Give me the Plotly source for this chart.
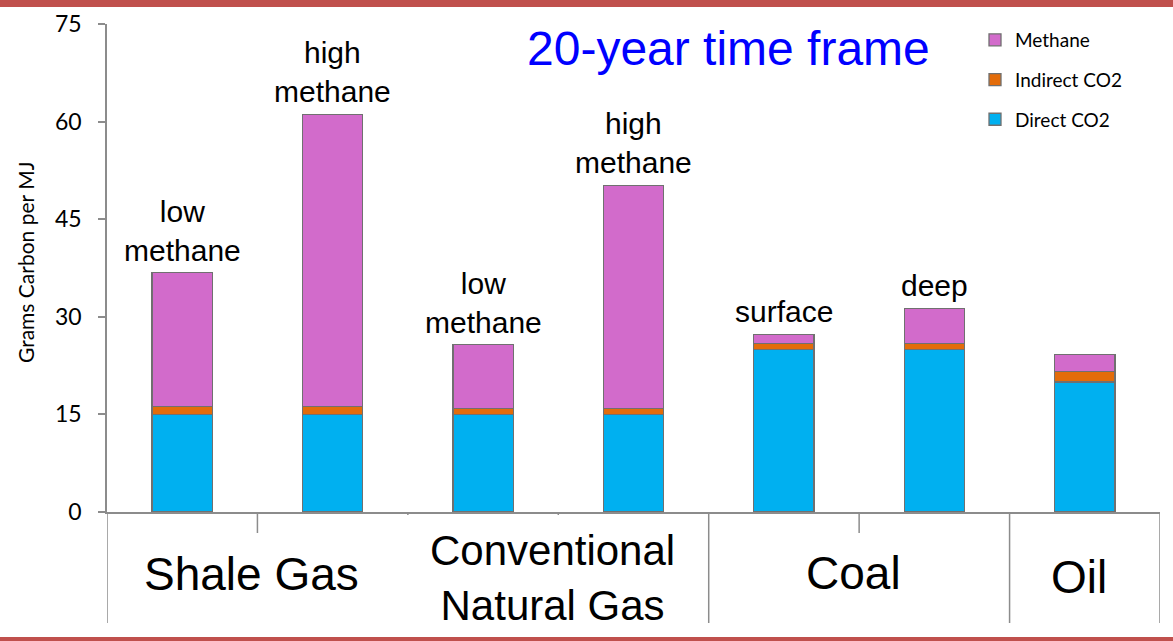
import plotly.graph_objects as go

# ---- data: grams of carbon per MJ, 20-year time frame ----
sources = ["Shale Gas", "Shale Gas", "Conventional<br>Natural Gas", "Conventional<br>Natural Gas",
           "Coal", "Coal", "Oil"]
variants = ["low<br>methane", "high<br>methane", "low<br>methane", "high<br>methane",
            "surface", "deep", ""]
direct_co2 = [15.0, 15.0, 15.0, 15.0, 25.0, 25.0, 20.0]
indirect_co2 = [1.2, 1.2, 0.9, 0.9, 0.9, 0.9, 1.6]
methane = [20.6, 44.9, 9.8, 34.3, 1.4, 5.4, 2.6]

y_ticks = [0, 15, 30, 45, 60, 75]
group_labels = ["Shale Gas", "Conventional<br>Natural Gas", "Coal", "Oil"]

# ---- geometry ----
W, H = 1173, 641
L, R, T, B = 107, 13, 24, 129
plot_w, plot_h = W - L - R, H - T - B

COL_METHANE = "#D26BCB"
COL_INDIRECT = "#E36C0A"
COL_DIRECT = "#00B0F0"
AXIS_GRAY = "#8C8C8C"
EDGE_GRAY = "#707070"
ARIAL = "Liberation Sans, Arial, sans-serif"
CALIBRI = "Lato, Open Sans, sans-serif"

bar_ids = [f"{s} {v}".replace("<br>", " ") for s, v in zip(sources, variants)]
bar_ids[-1] = "Oil"

fig = go.Figure()
for name, vals, col, rank in [("Direct CO2", direct_co2, COL_DIRECT, 3),
                              ("Indirect CO2", indirect_co2, COL_INDIRECT, 2),
                              ("Methane", methane, COL_METHANE, 1)]:
    fig.add_trace(go.Bar(
        x=bar_ids, y=vals, name=name, legendgroup=name, legendrank=rank,
        marker=dict(color=col, line=dict(color=EDGE_GRAY, width=1.3)),
        width=0.4,
    ))

# labels above each stacked bar
totals = [d + i + m for d, i, m in zip(direct_co2, indirect_co2, methane)]
annotations = []
for idx, (v, tot) in enumerate(zip(variants, totals)):
    if not v:
        continue
    annotations.append(dict(
        x=idx, y=tot, xref="x", yref="y", text=v, showarrow=False,
        yanchor="bottom", xanchor="center", yshift=4,
        font=dict(family=ARIAL, size=30, color="black"),
    ))

# category group labels below the axis
def py_to_paper(py):
    return (T + plot_h - py) / plot_h

group_pos = []
for g in group_labels:
    idxs = [i for i, s in enumerate(sources) if s == g]
    group_pos.append(sum(idxs) / len(idxs))
group_y = [574, 578, 573, 577]
group_size = [46, 42, 46, 46]
for g, gx, gy, gs in zip(group_labels, group_pos, group_y, group_size):
    annotations.append(dict(
        x=gx, y=py_to_paper(gy), xref="x", yref="paper", text=g, showarrow=False,
        xanchor="center", yanchor="middle", xshift=-6,
        font=dict(family=ARIAL, size=gs, color="black"),
    ))

# title
annotations.append(dict(
    x=(728 - L) / plot_w, y=py_to_paper(48), xref="paper", yref="paper",
    text="20-year time frame", showarrow=False, xanchor="center", yanchor="middle",
    font=dict(family=ARIAL, size=48, color="#0000FF"),
))

# y-axis title
annotations.append(dict(
    x=(25 - L) / plot_w, y=py_to_paper(262), xref="paper", yref="paper",
    text="Grams Carbon per MJ", showarrow=False, textangle=-90,
    xanchor="center", yanchor="middle",
    font=dict(family=CALIBRI, size=21, color="black"),
))

# dividers under the category axis
shapes = []
divider_len = {-0.5: 111, 0.5: 21, 1.5: 3, 2.5: 3, 3.5: 111, 4.5: 21, 5.5: 111, 6.5: 111}
for xv, ln in divider_len.items():
    shapes.append(dict(type="line", xref="x", yref="paper", x0=xv, x1=xv,
                       y0=0, y1=-ln / plot_h, line=dict(color=AXIS_GRAY, width=1.5)))

# slide border lines
shapes.append(dict(type="rect", xref="paper", yref="paper",
                   x0=-L / plot_w, x1=(W - L) / plot_w,
                   y0=py_to_paper(7), y1=py_to_paper(0),
                   line=dict(width=0), fillcolor="#C0504D", layer="above"))
shapes.append(dict(type="rect", xref="paper", yref="paper",
                   x0=-L / plot_w, x1=(W - L) / plot_w,
                   y0=py_to_paper(H), y1=py_to_paper(637),
                   line=dict(width=0), fillcolor="#C0504D", layer="above"))

fig.update_layout(
    width=W, height=H,
    margin=dict(l=L, r=R, t=T, b=B, autoexpand=False),
    barmode="stack",
    plot_bgcolor="white", paper_bgcolor="white",
    showlegend=True,
    legend=dict(
        x=(975 - L) / plot_w, y=py_to_paper(21), xanchor="left", yanchor="top",
        traceorder="grouped", tracegroupgap=12,
        font=dict(family=CALIBRI, size=19, color="black"),
        bgcolor="rgba(0,0,0,0)", itemwidth=30,
    ),
    xaxis=dict(
        type="category", range=[-0.5, 6.5], showticklabels=False, ticks="",
        showline=True, linecolor=AXIS_GRAY, linewidth=1.5, showgrid=False, zeroline=False,
        fixedrange=True,
    ),
    yaxis=dict(
        range=[0, 75], tickvals=y_ticks, ticks="outside", ticklen=7,
        tickcolor=AXIS_GRAY, tickwidth=1.5, showline=True, linecolor=AXIS_GRAY,
        linewidth=1.5, showgrid=False, zeroline=False,
        tickfont=dict(family=CALIBRI, size=23, color="black"),
        ticklabelstandoff=12,
    ),
    annotations=annotations,
    shapes=shapes,
    bargap=0.6,
)

fig.write_html("out.html")
